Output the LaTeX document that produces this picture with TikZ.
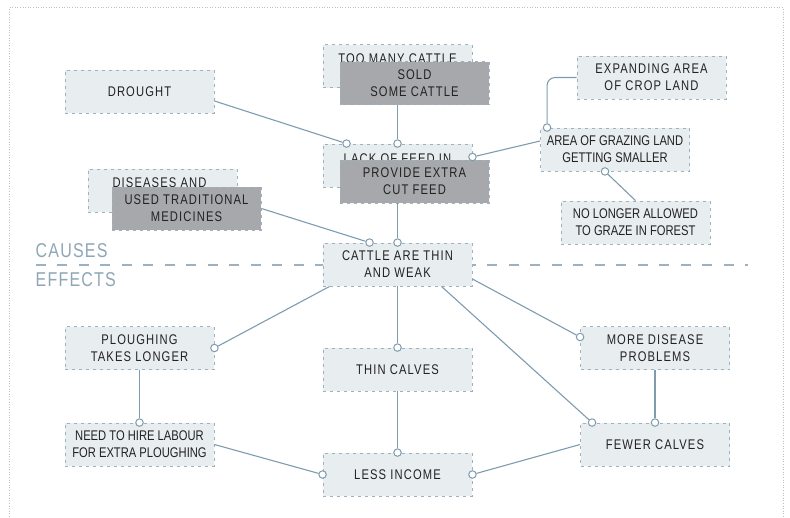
\documentclass[tikz,border=0pt]{standalone}
\usepackage{fontspec}
\setmainfont{Liberation Sans}[FakeStretch=0.8]
\newfontfamily\spacedfont{Liberation Sans}[FakeStretch=0.8,LetterSpace=8]
\newfontfamily\headfont{Liberation Sans}[FakeStretch=0.8,LetterSpace=6]
\usetikzlibrary{calc}
\definecolor{boxfill}{HTML}{E8EDF0}
\definecolor{boxline}{HTML}{9DB1C0}
\definecolor{grayfill}{HTML}{A7A8AB}
\definecolor{conncol}{HTML}{7F9CAF}
\definecolor{headcol}{HTML}{8FA6B6}
\definecolor{framecol}{HTML}{B3C2CC}
\definecolor{txtcol}{HTML}{222222}
\tikzset{
 box/.style={draw=boxline, fill=boxfill, line width=0.9pt, dash pattern=on 3pt off 4pt,
   minimum width=149pt, minimum height=43pt, inner sep=0pt, align=center, text=txtcol,
   font=\spacedfont\fontsize{14}{17}\selectfont},
 plainbox/.style={box, font=\fontsize{14}{17}\selectfont},
 graybox/.style={box, fill=grayfill},
 hidetxt/.style={inner sep=0pt, anchor=north, text=txtcol, font=\spacedfont\fontsize{14}{17}\selectfont},
 conn/.style={draw=conncol, line width=1.1pt},
 dotc/.style={circle, draw=conncol, fill=white, line width=1pt, minimum size=7.5pt, inner sep=0pt},
 head/.style={inner sep=0pt, anchor=north west, text=headcol, font=\headfont\fontsize{20}{24}\selectfont},
}
\begin{document}
\begin{tikzpicture}[x=1pt,y=-1pt]
\useasboundingbox (0,0) rectangle (790,517);
% frame
\draw[framecol, line width=1pt, dash pattern=on 1pt off 1.6pt] (9.5,517) -- (9.5,7.5) -- (783,7.5) -- (783,517);
% causes / effects divider
\draw[boxline, line width=1.2pt, dash pattern=on 10pt off 11.5pt] (35.5,265) -- (748,265);
\node[head] (causes) at (35.5,243) {CAUSES};
\node[head] (effects) at (35.5,272) {EFFECTS};

% boxes
\node[box] (drought) at (139.5,91.5) {DROUGHT};
\node[box] (toomany) at (397.5,66) {};
\node[hidetxt] (toomanytxt) at ($(toomany.north)+(0,9.5)$) {TOO MANY CATTLE};
\node[graybox] (sold) at (414.5,83) {SOLD\\SOME CATTLE};
\node[box] (lack) at (397.5,165.5) {};
\node[hidetxt] (lacktxt) at ($(lack.north)+(0,9.5)$) {LACK OF FEED IN};
\node[graybox] (provide) at (414.5,181.5) {PROVIDE EXTRA\\CUT FEED};
\node[box] (cattle) at (397.5,264.5) {CATTLE ARE THIN\\AND WEAK};
\node[box] (diseases) at (162.5,190.5) {};
\node[hidetxt] (diseasestxt) at ($(diseases.north)+(-3,9)$) {DISEASES AND};
\node[graybox] (used) at (186.5,208.5) {USED TRADITIONAL\\MEDICINES};
\node[box] (expanding) at (651.5,77.5) {EXPANDING AREA\\OF CROP LAND};
\node[plainbox] (grazing) at (615,149.5) {AREA OF GRAZING LAND\\GETTING SMALLER};
\node[plainbox] (nolonger) at (635.5,222.5) {NO LONGER ALLOWED\\TO GRAZE IN FOREST};
\node[box] (ploughing) at (139.5,348) {PLOUGHING\\TAKES LONGER};
\node[plainbox] (need) at (139.5,444.5) {NEED TO HIRE LABOUR\\FOR EXTRA PLOUGHING};
\node[box] (thin) at (397.5,369.5) {THIN CALVES};
\node[box] (less) at (397.5,474.5) {LESS INCOME};
\node[box] (more) at (655,348) {MORE DISEASE\\PROBLEMS};
\node[box] (fewer) at (655,444.5) {FEWER CALVES};

% end circles
\node[dotc] (c1) at ($(lack.north west)+(24,0)$) {};
\node[dotc] (c2) at (lack.north) {};
\node[dotc] (c3) at ($(lack.east)+(0,-8.5)$) {};
\node[dotc] (c4) at ($(grazing.north west)+(7,0)$) {};
\node[dotc] (c5) at ($(grazing.south)+(-10,0)$) {};
\node[dotc] (c6) at (cattle.north) {};
\node[dotc] (c7) at ($(cattle.north west)+(47,0)$) {};
\node[dotc] (c8) at (ploughing.east) {};
\node[dotc] (c9) at (thin.north) {};
\node[dotc] (c10) at ($(more.west)+(0,-11)$) {};
\node[dotc] (c11) at ($(fewer.north west)+(12,0)$) {};
\node[dotc] (c12) at (fewer.north) {};
\node[dotc] (c13) at (need.north) {};
\node[dotc] (c14) at (less.north) {};
\node[dotc] (c15) at (less.west) {};
\node[dotc] (c16) at (less.east) {};

% connectors
\draw[conn] ($(drought.east)+(0,9.5)$) -- (c1);
\draw[conn] (sold.south -| c2) -- (c2);
\draw[conn] ($(grazing.west)+(0,-8.5)$) -- (c3);
\draw[conn, rounded corners=8pt] (expanding.west) -| (c4);
\draw[conn] (nolonger.north) -- (c5);
\draw[conn] (provide.south -| c6) -- (c6);
\draw[conn] (used.east) -- (c7);
\draw[conn] ($(cattle.south west)+(7,0)$) -- (c8);
\draw[conn] (cattle.south) -- (c9);
\draw[conn] ($(cattle.east)+(0,14.5)$) -- (c10);
\draw[conn] ($(cattle.south)+(44,0)$) -- (c11);
\draw[conn] (more.south) -- (c12);
\draw[conn] (ploughing.south) -- (c13);
\draw[conn] (thin.south) -- (c14);
\draw[conn] (need.east) -- (c15);
\draw[conn] (fewer.west) -- (c16);
\end{tikzpicture}
\end{document}
